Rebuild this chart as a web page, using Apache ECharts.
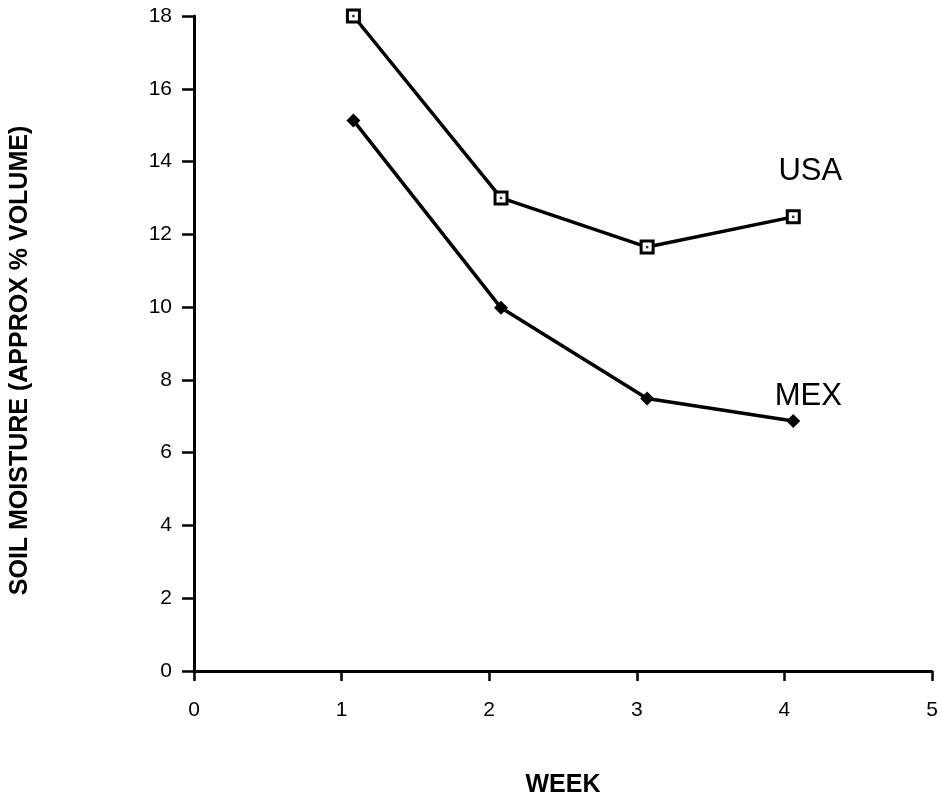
<!DOCTYPE html>
<html><head><meta charset="utf-8">
<script src="https://cdn.jsdelivr.net/npm/echarts@6/dist/echarts.min.js"></script>
<style>html,body{margin:0;padding:0;background:#fff}#c{width:941px;height:803px}</style>
</head><body><div id="c"></div>
<script>
var weeks = [1.08, 2.08, 3.07, 4.06];
var usaValues = [18.0, 13.0, 11.65, 12.48];
var mexValues = [15.13, 9.98, 7.49, 6.87];
var seriesNames = ['USA', 'MEX'];
var xTitle = 'WEEK';
var yTitle = 'SOIL MOISTURE (APPROX % VOLUME)';

function pairs(xs, ys){ return xs.map(function(x,i){ return [x, ys[i]]; }); }
var FONT = '"Liberation Sans", Arial, sans-serif';
var usaData = pairs(weeks, usaValues);
var mexData = pairs(weeks, mexValues);
function withEndLabel(data, name, dist, dx){
  return data.map(function(p, i){
    if (i !== data.length - 1) return p;
    return { value: p, label: { show: true, formatter: name, position: 'top', distance: dist, offset: [dx, 0],
      fontFamily: FONT, fontSize: 31, color: '#000' } };
  });
}

var chart = echarts.init(document.getElementById('c'));
chart.setOption({
  animation: false,
  backgroundColor: '#fff',
  grid: { left: 193, right: 9, top: 16, bottom: 129 },
  xAxis: {
    type: 'value', min: 0, max: 5, interval: 1,
    name: xTitle, nameLocation: 'middle', nameGap: 102,
    nameTextStyle: { fontFamily: FONT, fontSize: 25, fontWeight: 'bold', color: '#000' },
    axisLine: { lineStyle: { color: '#000', width: 3 } },
    axisTick: { show: true, length: 10, lineStyle: { color: '#000', width: 2.5 } },
    axisLabel: { fontFamily: FONT, fontSize: 21, color: '#000', margin: 29 },
    splitLine: { show: false }
  },
  yAxis: {
    type: 'value', min: 0, max: 18, interval: 2,
    name: yTitle, nameLocation: 'middle', nameGap: 161, nameRotate: 90,
    nameTextStyle: { fontFamily: FONT, fontSize: 25, fontWeight: 'bold', color: '#000', padding: [0, 34, 0, 0] },
    axisLine: { show: true, lineStyle: { color: '#000', width: 3 } },
    axisTick: { show: true, length: 12, lineStyle: { color: '#000', width: 2.5 } },
    axisLabel: { fontFamily: FONT, fontSize: 21, color: '#000', margin: 22 },
    splitLine: { show: false }
  },
  series: [
    {
      name: seriesNames[0], type: 'line', data: withEndLabel(usaData, seriesNames[0], 22, 17),
      symbol: 'rect', symbolSize: 12, showAllSymbol: true,
      lineStyle: { color: '#000', width: 3.5 },
      itemStyle: { color: '#fff', borderColor: '#000', borderWidth: 3 },
      z: 3
    },
    {
      name: seriesNames[0] + ' dot', type: 'scatter', data: usaData,
      symbol: 'rect', symbolSize: 2.5, itemStyle: { color: '#000' }, z: 4, silent: true
    },
    {
      name: seriesNames[1], type: 'line', data: withEndLabel(mexData, seriesNames[1], 2, 15),
      symbol: 'diamond', symbolSize: 14, showAllSymbol: true,
      lineStyle: { color: '#000', width: 3.5 },
      itemStyle: { color: '#000' },
      z: 3
    }
  ]
});
</script></body></html>
